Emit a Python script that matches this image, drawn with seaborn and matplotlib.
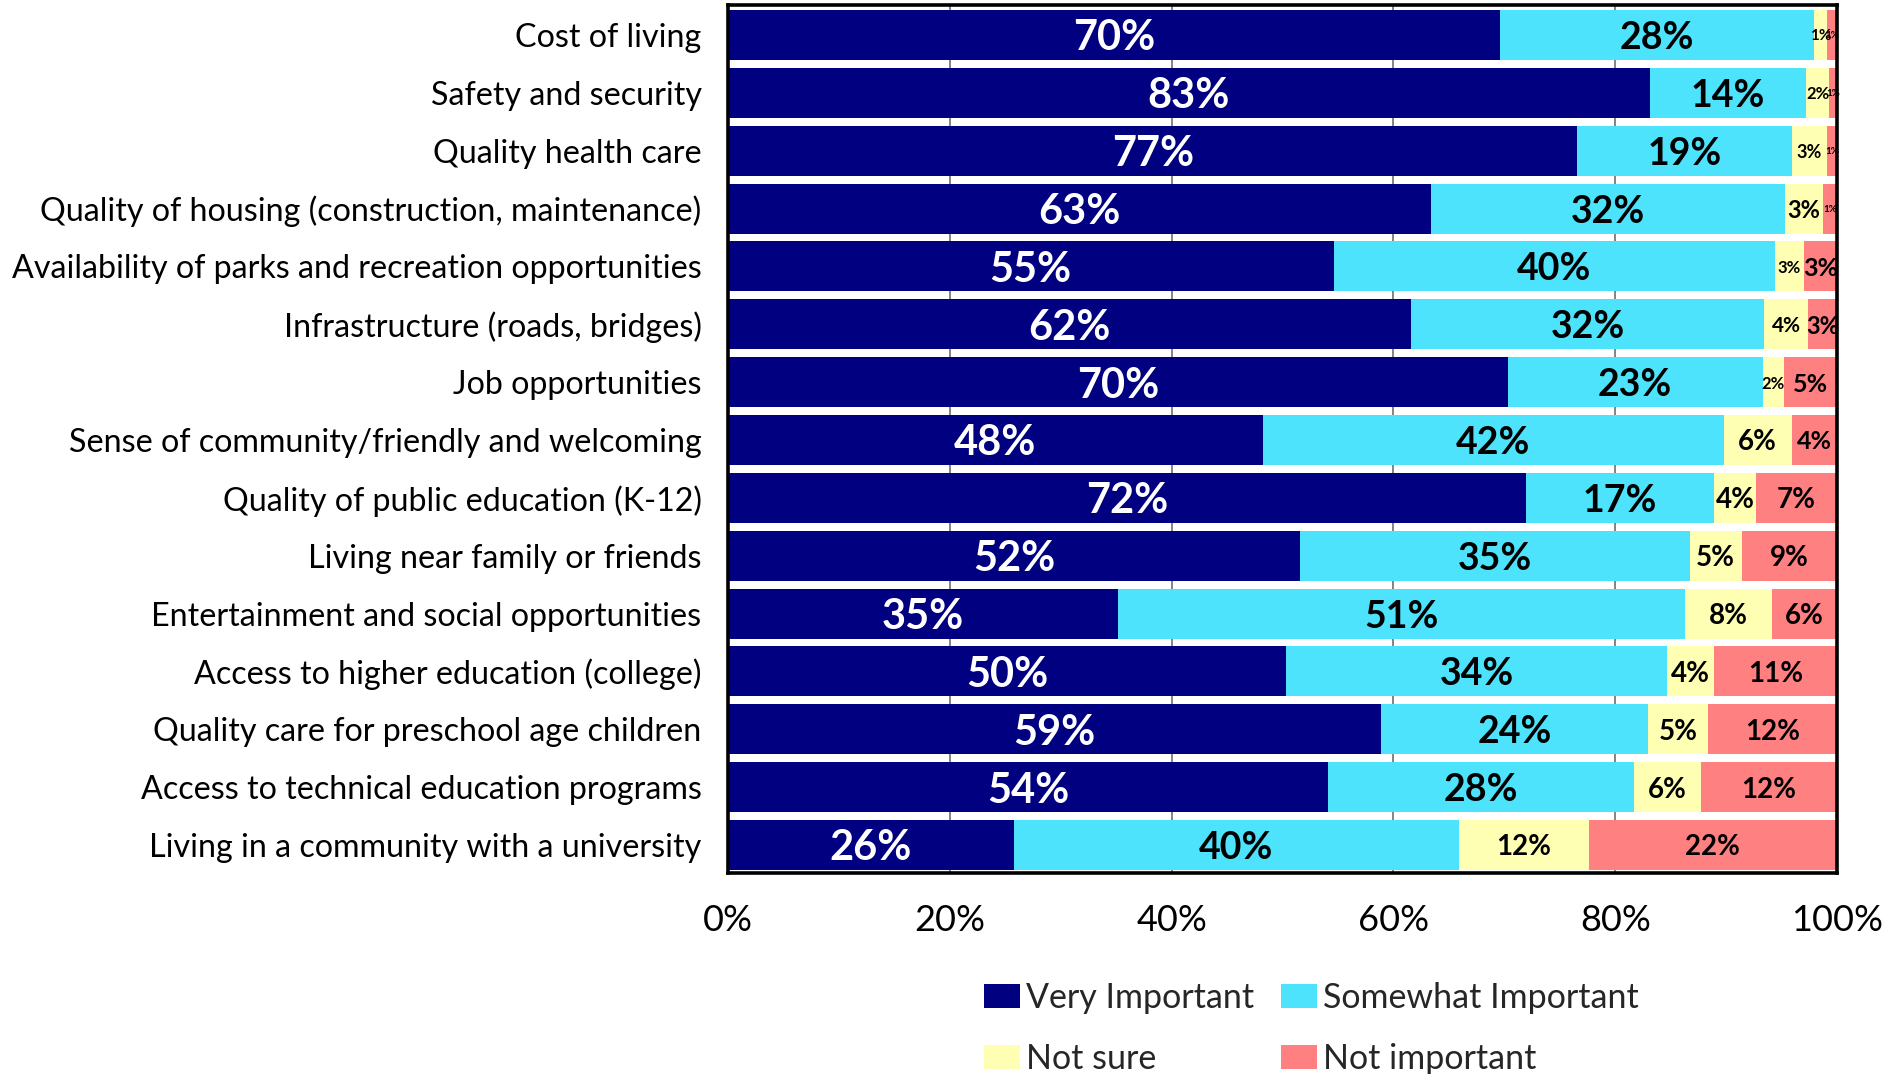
import numpy as np
import pandas as pd
import matplotlib
matplotlib.use("Agg")
import matplotlib.pyplot as plt
import seaborn as sns
from matplotlib.patches import Patch

# ---------------- data ----------------
categories = [
    "Cost of living",
    "Safety and security",
    "Quality health care",
    "Quality of housing (construction, maintenance)",
    "Availability of parks and recreation opportunities",
    "Infrastructure (roads, bridges)",
    "Job opportunities",
    "Sense of community/friendly and welcoming",
    "Quality of public education (K-12)",
    "Living near family or friends",
    "Entertainment and social opportunities",
    "Access to higher education (college)",
    "Quality care for preschool age children",
    "Access to technical education programs",
    "Living in a community with a university",
]
very_important = [69.6, 83.1, 76.6, 63.4, 54.6, 61.6, 70.3, 48.2, 72.0, 51.6, 35.2, 50.3, 58.9, 54.1, 25.8]
somewhat_important = [28.3, 14.1, 19.3, 31.9, 39.8, 31.8, 23.0, 41.6, 16.9, 35.1, 51.1, 34.4, 24.1, 27.6, 40.1]
not_sure = [1.2, 2.1, 3.2, 3.4, 2.6, 4.0, 1.9, 6.1, 3.8, 4.7, 7.8, 4.2, 5.4, 6.0, 11.7]
not_important = [0.9, 0.7, 0.9, 1.3, 3.0, 2.6, 4.8, 4.1, 7.3, 8.6, 5.9, 11.1, 11.6, 12.3, 22.4]
series_names = ["Very Important", "Somewhat Important", "Not sure", "Not important"]
tick_values = [0, 20, 40, 60, 80, 100]
tick_labels = ["0%", "20%", "40%", "60%", "80%", "100%"]

# ---------------- style ----------------
colors = ["#000080", "#4DE3FC", "#FFFFB3", "#FF8080"]
label_colors = ["white", "black", "black", "black"]
base_label_size = [30, 27, 20, 20]
# manual label size overrides for narrow segments (style, per row)
yellow_label_size = [11, 12, 13, 17, 12, 15, 12, 20, 20, 20, 20, 20, 20, 20, 20]
red_label_size = [7, 7, 7, 7, 18, 17, 18, 18, 20, 20, 20, 20, 20, 20, 20]

sns.set_style("white")
plt.rcParams["font.family"] = ["Lato", "DejaVu Sans"]

W, H = 1904, 1074
fig = plt.figure(figsize=(W / 100, H / 100), dpi=100)
ax_l, ax_r, ax_t, ax_b = 728, 1837, 5, 873
ax = fig.add_axes([ax_l / W, 1 - ax_b / H, (ax_r - ax_l) / W, (ax_b - ax_t) / H])

df = pd.DataFrame({
    "Category": categories,
    series_names[0]: very_important,
    series_names[1]: somewhat_important,
    series_names[2]: not_sure,
    series_names[3]: not_important,
})
stack = df[series_names].to_numpy().T
cum = np.cumsum(stack, axis=0)

# stacked bars via overlaid cumulative totals
for i in reversed(range(4)):
    sns.barplot(x=cum[i], y=df["Category"], color=colors[i], orient="h",
                width=0.865, saturation=1, linewidth=0, ax=ax)

# data labels
for i in range(4):
    for r in range(len(categories)):
        v = stack[i][r]
        xc = cum[i][r] - v / 2
        if i == 2:
            fs = yellow_label_size[r]
        elif i == 3:
            fs = red_label_size[r]
        else:
            fs = base_label_size[i]
        ax.text(xc, r, f"{v:.0f}%", ha="center", va="center_baseline",
                fontsize=fs, fontweight="bold", color=label_colors[i], zorder=5)

ax.set_xlim(0, 100)
ax.set_ylim(14.484, -0.518)
ax.set_xticks(tick_values)
ax.set_xticklabels(tick_labels, fontsize=26)
ax.tick_params(axis="x", length=0, pad=22, colors="black")
ax.tick_params(axis="y", length=0, pad=19, labelsize=23.2, colors="black")
ax.set_xlabel("")
ax.set_ylabel("")

ax.set_axisbelow(True)
ax.grid(axis="x", color="#6e6e6e", linewidth=1.2)
ax.grid(axis="y", visible=False)
for s in ax.spines.values():
    s.set_visible(True)
    s.set_color("black")
    s.set_linewidth(2.6)

handles = [Patch(facecolor=colors[k], edgecolor="none", label=series_names[k]) for k in [0, 2, 1, 3]]
fig.legend(handles=handles, ncol=2, loc="upper left",
           bbox_to_anchor=(984 / W, 1 - 982 / H), frameon=False, fontsize=24.5,
           handlelength=1.05, handleheight=0.7, handletextpad=0.18,
           columnspacing=0.8, labelspacing=0.85, borderpad=0, borderaxespad=0)

fig.savefig("out.png", dpi=100)
